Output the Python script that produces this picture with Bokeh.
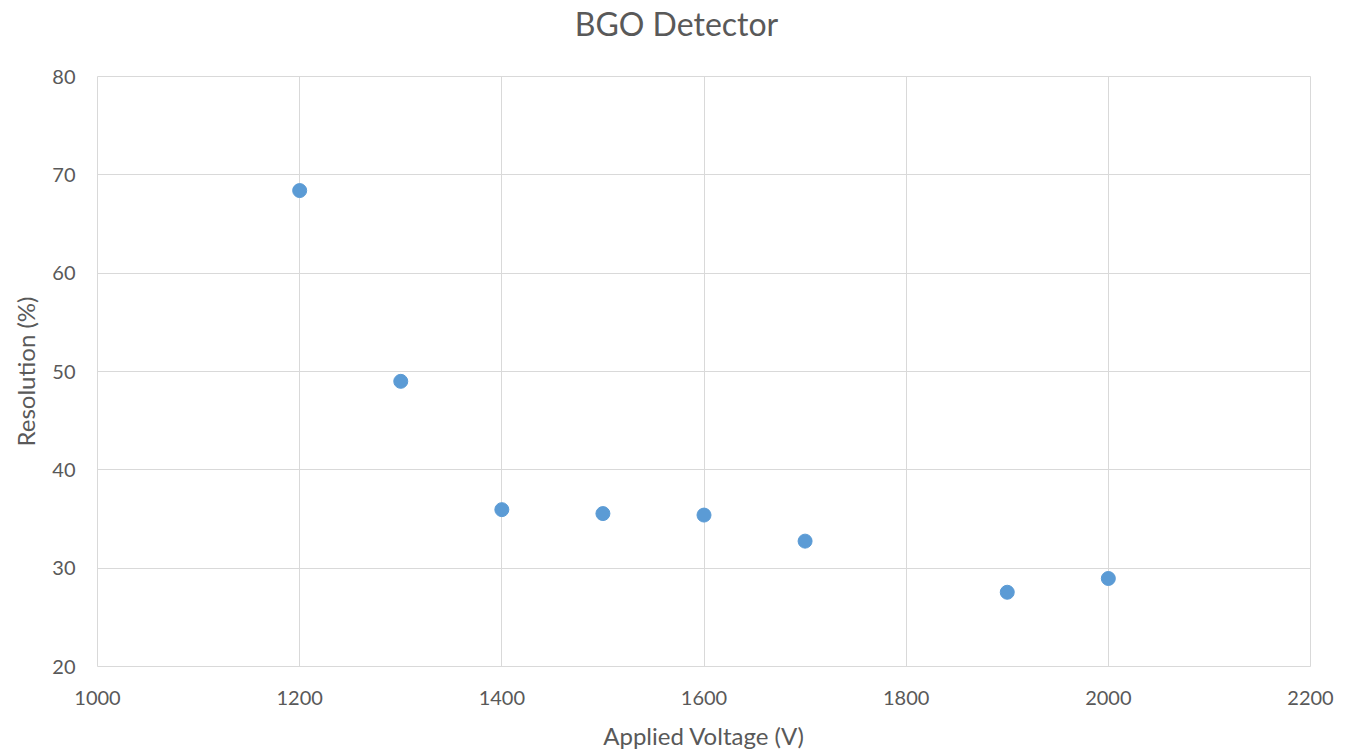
from bokeh.plotting import figure
from bokeh.models import ColumnDataSource, FixedTicker, Div
from bokeh.layouts import column
from bokeh.embed import file_html
from bokeh.resources import INLINE

voltage = [1200, 1300, 1400, 1500, 1600, 1700, 1900, 2000]
resolution = [68.4, 49.0, 35.95, 35.55, 35.4, 32.75, 27.55, 28.95]
x_ticks = [1000, 1200, 1400, 1600, 1800, 2000, 2200]
y_ticks = [20, 30, 40, 50, 60, 70, 80]
title_text = "BGO Detector"

src = ColumnDataSource(dict(x=voltage, y=resolution))

FONT = "Lato"
GREY = "#595959"
TITLE_H = 48

title_div = Div(text=title_text, width=1357, height=TITLE_H, margin=(0, 0, 0, 0),
                styles={"font-family": FONT, "font-size": "32px", "color": GREY,
                        "text-align": "center", "line-height": f"{TITLE_H}px",
                        "width": "1355px", "padding-right": "2px", "background": "white"})

p = figure(width=1357, height=753 - TITLE_H, output_backend="svg", toolbar_location=None,
           x_range=(1000, 2200), y_range=(20, 80),
           min_border_left=97, min_border_right=47, min_border_top=76 - TITLE_H,
           min_border_bottom=87)

p.scatter("x", "y", source=src, size=14, color="#5b9bd5", line_color="#5b9bd5")

p.xaxis.ticker = FixedTicker(ticks=x_ticks)
p.yaxis.ticker = FixedTicker(ticks=y_ticks)
for ax in (p.xaxis[0], p.yaxis[0]):
    ax.axis_line_color = None
    ax.major_tick_line_color = None
    ax.minor_tick_line_color = None
    ax.major_label_text_font = FONT
    ax.major_label_text_font_size = "15pt"
    ax.major_label_text_color = GREY
    ax.axis_label_text_font = FONT
    ax.axis_label_text_font_size = "18pt"
    ax.axis_label_text_font_style = "normal"
    ax.axis_label_text_color = GREY
p.xaxis.axis_label = "Applied Voltage (V)"
p.yaxis.axis_label = "Resolution (%)"
p.xaxis.major_label_standoff = 18
p.yaxis.major_label_standoff = 16
p.xaxis.axis_label_standoff = 13
p.yaxis.axis_label_standoff = 9

p.xgrid.grid_line_color = "#d9d9d9"
p.ygrid.grid_line_color = "#d9d9d9"
p.xgrid.ticker = FixedTicker(ticks=x_ticks)
p.ygrid.ticker = FixedTicker(ticks=y_ticks)
p.outline_line_color = "#d9d9d9"
p.background_fill_color = "white"
p.border_fill_color = "white"

layout = column(title_div, p, spacing=0)
open("out.html", "w").write(file_html(layout, INLINE))
